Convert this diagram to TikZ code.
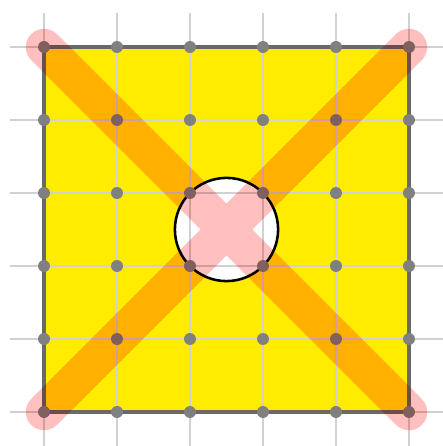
\documentclass[tikz,border=0pt]{standalone}
\usetikzlibrary{positioning}
\definecolor{boardyellow}{RGB}{255,236,0}
\definecolor{framegray}{RGB}{105,105,105}

\begin{document}
\begin{tikzpicture}[
gridline/.style={draw=black!18,line width=0.6pt},
griddot/.style={fill=gray,draw=none},
cross/.style={pink,line width=0.5cm,line cap=round}]

\useasboundingbox (-0.603,-0.466) rectangle (5.466,5.644);

\fill[boardyellow] (0,0) rectangle (5,5);

\draw[black,line width=1pt,fill=white] (2.5,2.5) circle (0.707);

\draw[gridline] (-0.47,-0.47) grid (5.47,5.47);

\draw[framegray,line width=1.2pt] (0,0) rectangle (5,5);

\foreach \x in {0,...,5}
  \foreach \y in {0,...,5}
    \fill[griddot] (\x,\y) circle (0.082);

\begin{scope}[blend mode=multiply]
\draw[cross] (0,0)--(5,5) (0,5)--(5,0);
\end{scope}

\end{tikzpicture}
\end{document}
